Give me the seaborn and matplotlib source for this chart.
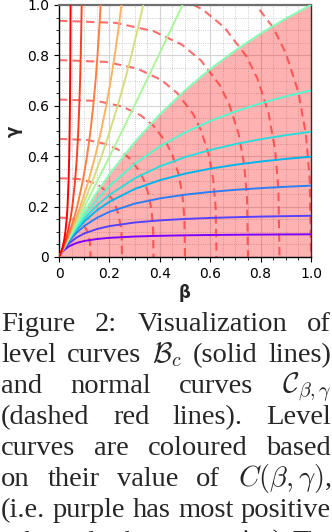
import matplotlib
matplotlib.use('Agg')
import matplotlib.pyplot as plt
import seaborn as sns

# flat level curves: gamma read at each beta
beta_grid = [0, 0.01, 0.02, 0.04, 0.07, 0.1, 0.15, 0.2, 0.3, 0.4, 0.5, 0.6, 0.7, 0.8, 0.9, 1.0]
lvl_purple = [0, 0.0162, 0.0276, 0.0427, 0.0558, 0.0636, 0.0714, 0.0760, 0.0813, 0.0842, 0.0860, 0.0873, 0.0883, 0.0890, 0.0895, 0.0900]
lvl_violet = [0, 0.0176, 0.0321, 0.0543, 0.0774, 0.0933, 0.1109, 0.1225, 0.1369, 0.1453, 0.1510, 0.1550, 0.1579, 0.1603, 0.1621, 0.1636]
lvl_blue = [0, 0.0184, 0.0349, 0.0632, 0.0968, 0.1229, 0.1554, 0.1792, 0.2116, 0.2326, 0.2473, 0.2582, 0.2666, 0.2732, 0.2786, 0.2831]
lvl_azure = [0, 0.0188, 0.0362, 0.0676, 0.1074, 0.1404, 0.1847, 0.2193, 0.2698, 0.3049, 0.3307, 0.3505, 0.3661, 0.3788, 0.3893, 0.3981]
lvl_cyan = [0, 0.0190, 0.0369, 0.0699, 0.1135, 0.1511, 0.2035, 0.2463, 0.3119, 0.3597, 0.3962, 0.4249, 0.4481, 0.4673, 0.4834, 0.4970]
lvl_teal = [0, 0.0192, 0.0376, 0.0725, 0.1203, 0.1634, 0.2266, 0.2809, 0.3695, 0.4386, 0.4941, 0.5396, 0.5776, 0.6098, 0.6374, 0.6614]
lvl_green = [0, 0.0193, 0.0383, 0.0753, 0.1282, 0.1783, 0.2563, 0.3281, 0.4556, 0.5656, 0.6614, 0.7455, 0.8201, 0.8865, 0.9462, 1.0]

# steep level curves: beta read at each gamma
gamma_grid = [0, 0.01, 0.02, 0.04, 0.07, 0.1, 0.15, 0.2, 0.3, 0.4, 0.5, 0.6, 0.7, 0.8, 0.9, 1.0]
lvl_lime = [0, 0.0051, 0.0102, 0.0204, 0.0357, 0.0510, 0.0764, 0.1015, 0.1512, 0.2012, 0.2505, 0.2991, 0.3474, 0.3954, 0.4429, 0.4900]
lvl_olive = [0, 0.0051, 0.0101, 0.0201, 0.0346, 0.0486, 0.0711, 0.0925, 0.1324, 0.1688, 0.2021, 0.2328, 0.2610, 0.2872, 0.3114, 0.3340]
lvl_orange = [0, 0.0051, 0.0100, 0.0196, 0.0334, 0.0463, 0.0662, 0.0844, 0.1164, 0.1436, 0.1670, 0.1874, 0.2053, 0.2212, 0.2353, 0.2479]
lvl_tomato = [0, 0.0050, 0.0098, 0.0189, 0.0312, 0.0423, 0.0584, 0.0721, 0.0942, 0.1113, 0.1249, 0.1359, 0.1451, 0.1528, 0.1594, 0.1652]
lvl_scarlet = [0, 0.0049, 0.0094, 0.0172, 0.0270, 0.0349, 0.0451, 0.0528, 0.0638, 0.0712, 0.0765, 0.0805, 0.0837, 0.0862, 0.0883, 0.0900]
lvl_red = [0, 0.0046, 0.0085, 0.0146, 0.0210, 0.0254, 0.0305, 0.0338, 0.0380, 0.0405, 0.0422, 0.0434, 0.0443, 0.0450, 0.0455, 0.0460]

# normal curves C_{beta,gamma} (dashed), beta / gamma pairs
nrm_b1 = [0, 0.0375, 0.0625, 0.0813, 0.0938, 0.1063, 0.1125, 0.1188, 0.1225, 0.1244, 0.125]
nrm_g1 = [0.1563, 0.1548, 0.1494, 0.1405, 0.1302, 0.1138, 0.1011, 0.0817, 0.0608, 0.0384, 0]
nrm_b2 = [0, 0.075, 0.125, 0.1625, 0.1875, 0.2125, 0.225, 0.2375, 0.245, 0.2488, 0.25]
nrm_g2 = [0.3125, 0.3097, 0.2988, 0.2809, 0.2603, 0.2275, 0.2022, 0.1634, 0.1216, 0.0769, 0]
nrm_b3 = [0, 0.1125, 0.1875, 0.2438, 0.2813, 0.3188, 0.3375, 0.3563, 0.3675, 0.3731, 0.375]
nrm_g3 = [0.4688, 0.4645, 0.4481, 0.4214, 0.3905, 0.3413, 0.3033, 0.2452, 0.1823, 0.1153, 0]
nrm_b4 = [0, 0.15, 0.25, 0.325, 0.375, 0.425, 0.45, 0.475, 0.49, 0.4975, 0.5]
nrm_g4 = [0.625, 0.6194, 0.5975, 0.5619, 0.5206, 0.455, 0.4044, 0.3269, 0.2431, 0.1538, 0]
nrm_b5 = [0, 0.1875, 0.3125, 0.4063, 0.4688, 0.5313, 0.5625, 0.5938, 0.6125, 0.6219, 0.625]
nrm_g5 = [0.7813, 0.7742, 0.7469, 0.7023, 0.6508, 0.5688, 0.5055, 0.4086, 0.3039, 0.1922, 0]
nrm_b6 = [0, 0.225, 0.375, 0.4875, 0.5625, 0.6375, 0.675, 0.7125, 0.735, 0.7463, 0.75]
nrm_g6 = [0.9375, 0.9291, 0.8963, 0.8428, 0.7809, 0.6825, 0.6066, 0.4903, 0.3647, 0.2306, 0]
nrm_b7 = [0, 0.2625, 0.4375, 0.5688, 0.6563, 0.7438, 0.7875, 0.8313, 0.8575, 0.8706, 0.875]
nrm_g7 = [1.0938, 1.0839, 1.0456, 0.9833, 0.9111, 0.7963, 0.7077, 0.5720, 0.4255, 0.2691, 0]
nrm_b8 = [0, 0.3, 0.5, 0.65, 0.75, 0.85, 0.9, 0.95, 0.98, 0.995, 1.0]
nrm_g8 = [1.25, 1.2388, 1.195, 1.1238, 1.0413, 0.91, 0.8088, 0.6538, 0.4863, 0.3075, 0]

ticks = [0, 0.2, 0.4, 0.6, 0.8, 1.0]
tick_labels = ['0', '0.2', '0.4', '0.6', '0.8', '1.0']

caption = [
    ['Figure', '2:', 'Visualization', 'of'],
    ['level', 'curves', r'$\mathcal{B}_c$', '(solid', 'lines)'],
    ['and', 'normal', 'curves', r'$\mathcal{C}_{\beta,\gamma}$'],
    ['(dashed', 'red', 'lines).', 'Level'],
    ['curves', 'are', 'coloured', 'based'],
    ['on', 'their', 'value', 'of', r'$C(\beta,\gamma)$,'],
    ['(i.e.', 'purple', 'has', 'most', 'positive'],
    ['value', 'and', 'red', 'most', 'negative).', 'The'],
]

sns.set_style('ticks')
plt.rcParams['font.family'] = ['DejaVu Sans']
plt.rcParams['mathtext.fontset'] = 'cm'

W, H = 332, 532
fig = plt.figure(figsize=(W / 100, H / 100), dpi=100)
ax = fig.add_axes([59 / W, 275 / H, 252 / W, 252 / H])

rainbow = plt.get_cmap('rainbow')
flat = [lvl_purple, lvl_violet, lvl_blue, lvl_azure, lvl_cyan, lvl_teal, lvl_green]
steep = [lvl_lime, lvl_olive, lvl_orange, lvl_tomato, lvl_scarlet, lvl_red]

# shaded region under the boundary level curve
ax.fill_between(beta_grid, 0, lvl_green, color='red', alpha=0.3, lw=0, zorder=1)

normals = [(nrm_b1, nrm_g1), (nrm_b2, nrm_g2), (nrm_b3, nrm_g3), (nrm_b4, nrm_g4),
           (nrm_b5, nrm_g5), (nrm_b6, nrm_g6), (nrm_b7, nrm_g7), (nrm_b8, nrm_g8)]
for b, g in normals:
    sns.lineplot(x=b, y=g, sort=False, estimator=None, ax=ax, color='#ff3030',
                 alpha=0.7, lw=1.5, zorder=2)
for ln in ax.lines:
    ln.set_linestyle((0, (4, 2.5)))

n = len(flat) + len(steep)
for i, g in enumerate(flat):
    sns.lineplot(x=beta_grid, y=g, sort=False, estimator=None, ax=ax,
                 color=rainbow(i / (n - 1)), lw=1.4, zorder=3)
for j, b in enumerate(steep):
    sns.lineplot(x=b, y=gamma_grid, sort=False, estimator=None, ax=ax,
                 color=rainbow((len(flat) + j) / (n - 1)), lw=1.4, zorder=3)

ax.set_xlim(0, 1)
ax.set_ylim(0, 1)
ax.set_xticks(ticks)
ax.set_xticklabels(tick_labels)
ax.set_yticks(ticks)
ax.set_yticklabels(tick_labels)
ax.set_xticks([k * 0.05 for k in range(21)], minor=True)
ax.set_yticks([k * 0.05 for k in range(21)], minor=True)
ax.tick_params(which='major', length=3.5, width=0.8, labelsize=10, color='black', labelcolor='black')
ax.tick_params(which='minor', length=2, width=0.6, color='black')
ax.set_axisbelow(True)
ax.grid(which='major', color='#d4d4d4', lw=0.8, ls='-')
ax.grid(which='minor', color='#bdbdbd', lw=0.6, ls=':')
for s in ax.spines.values():
    s.set_color('black')
    s.set_linewidth(1.0)
ax.spines['top'].set_color('#707070')
ax.spines['top'].set_linewidth(1.6)
ax.spines['right'].set_color('#303030')
ax.set_xlabel('β', fontsize=12, fontweight='bold', labelpad=2)
ax.set_ylabel('γ', fontsize=12, fontweight='bold', labelpad=3)

# justified caption text (Times-like serif)
serif = ['Liberation Serif', 'Times New Roman', 'DejaVu Serif']
fig.canvas.draw()
r = fig.canvas.get_renderer()
x0, x1 = 1.0, 331.0
base, step = 331.0, 31.0
for i, words in enumerate(caption):
    y = 1 - (base + i * step) / H
    size = 20.5
    texts = [fig.text(0, y, w, fontsize=size, family=serif, va='baseline') for w in words]
    widths = [t.get_window_extent(r).width for t in texts]
    room = x1 - x0 - 5.0 * (len(words) - 1)
    if sum(widths) > room:
        size = size * room / sum(widths)
        for t in texts:
            t.set_fontsize(size)
        widths = [t.get_window_extent(r).width for t in texts]
    gap = (x1 - x0 - sum(widths)) / (len(words) - 1)
    x = x0
    for t, wd in zip(texts, widths):
        t.set_x(x / W)
        x += wd + gap

fig.savefig('out.png', dpi=100)
